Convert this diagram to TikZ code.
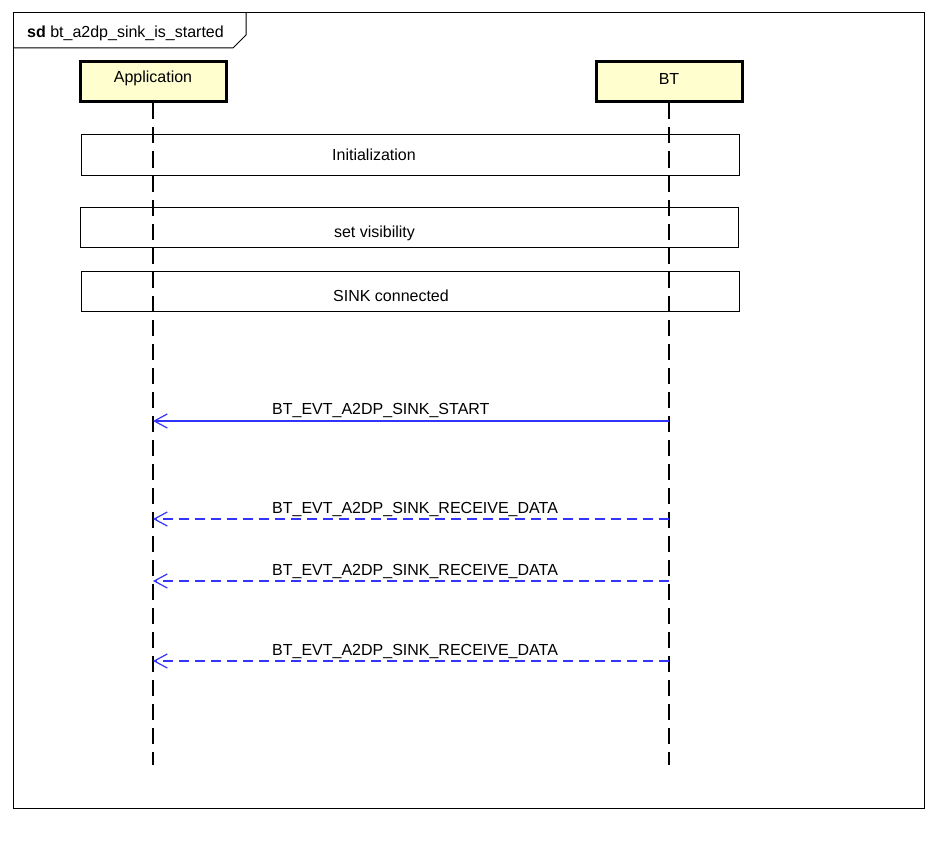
\documentclass[tikz,border=0pt]{standalone}
\usepackage{fontspec}
\setmainfont{Liberation Sans}
\usetikzlibrary{arrows.meta}
\definecolor{msgblue}{RGB}{51,51,255}
\definecolor{partfill}{RGB}{254,254,206}
\begin{document}
\begin{tikzpicture}[x=1pt,y=-1pt,
  every node/.style={font=\fontsize{16}{18}\selectfont, inner sep=0pt},
  participant/.style={draw=black, line width=3pt, fill=partfill, minimum width=146pt, minimum height=40pt},
  refbox/.style={draw=black, line width=1pt, minimum width=658pt, minimum height=40pt},
  lifeline/.style={draw=black, line width=1.4pt, dash pattern=on 16pt off 8pt},
  syncmsg/.style={draw=msgblue, line width=1.2pt, -{Straight Barb[length=13pt,width=14pt]}},
  replymsg/.style={syncmsg, dash pattern=on 10pt off 6pt},
  msglabel/.style={anchor=base west},
  centerlabel/.style={anchor=base}]

\useasboundingbox (0,0) rectangle (937,848);

% sequence diagram frame with its name tab
\draw[line width=1pt] (13,13) rectangle (924,808);
\draw[line width=1pt] (13,48) -- (233,48) -- (246,35) -- (246,13);
\node[anchor=base west] (title) at (27,38) {\textbf{sd} bt\_a2dp\_sink\_is\_started};

% lifeline ends
\coordinate (appEnd) at (153,765);
\coordinate (btEnd) at (669,765);

% participants
\node[participant] (app) at (153,82) {};
\node[participant] (bt) at (669,82) {};
\node[centerlabel] (appLabel) at (153,83) {Application};
\node[centerlabel] (btLabel) at (669,85) {BT};

% lifelines
\draw[lifeline] (app.south) -- (appEnd);
\draw[lifeline] (bt.south) -- (btEnd);

% interaction references
\node[refbox] (init) at (410,155) {};
\node[centerlabel] (initLabel) at (374,160.5) {Initialization};
\node[refbox] (vis) at (409,227) {};
\node[centerlabel] (visLabel) at (374.5,237.5) {set visibility};
\node[refbox] (conn) at (410,291) {};
\node[centerlabel] (connLabel) at (391,301.5) {SINK connected};

% message anchor points on the lifelines
\coordinate (btM1) at (669,421);  \coordinate (appM1) at (153,421);
\coordinate (btM2) at (669,519);  \coordinate (appM2) at (153,519);
\coordinate (btM3) at (669,581);  \coordinate (appM3) at (153,581);
\coordinate (btM4) at (669,661);  \coordinate (appM4) at (153,661);

% messages
\draw[syncmsg] (btM1) -- (appM1);
\node[msglabel] (m1) at (272,414.5) {BT\_EVT\_A2DP\_SINK\_START};
\draw[replymsg] (btM2) -- (appM2);
\node[msglabel] (m2) at (272,513.5) {BT\_EVT\_A2DP\_SINK\_RECEIVE\_DATA};
\draw[replymsg] (btM3) -- (appM3);
\node[msglabel] (m3) at (272,575.5) {BT\_EVT\_A2DP\_SINK\_RECEIVE\_DATA};
\draw[replymsg] (btM4) -- (appM4);
\node[msglabel] (m4) at (272,655.5) {BT\_EVT\_A2DP\_SINK\_RECEIVE\_DATA};

\end{tikzpicture}
\end{document}
